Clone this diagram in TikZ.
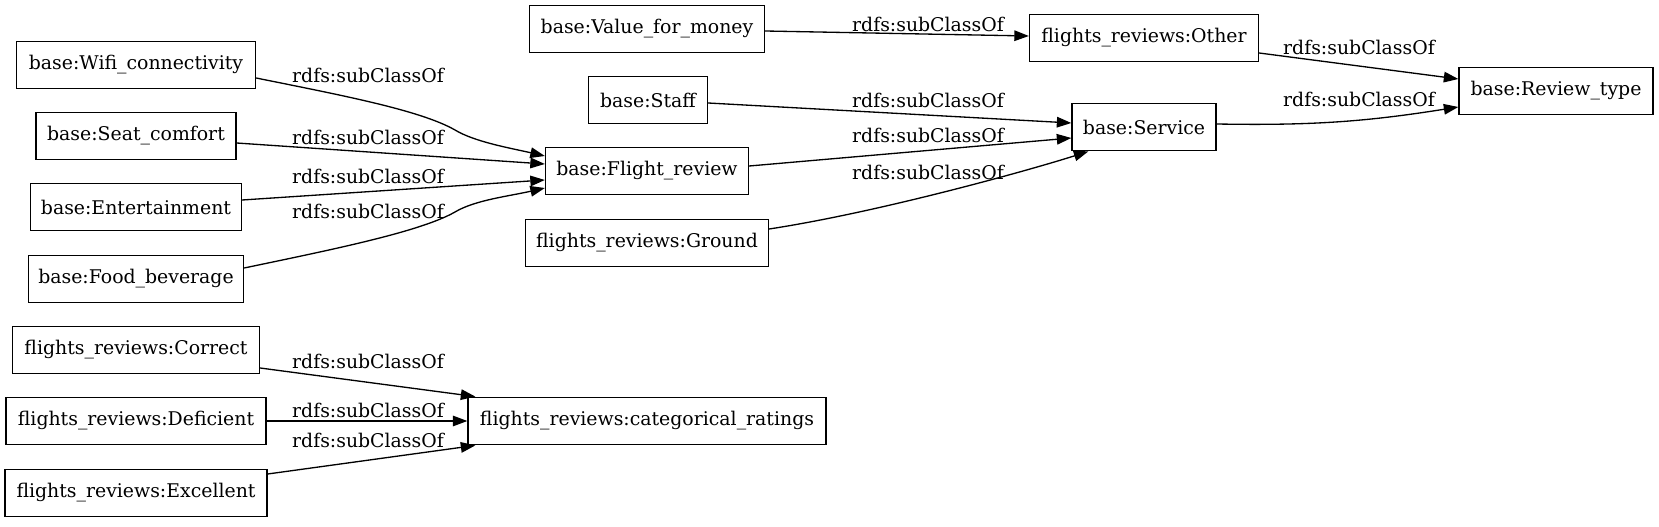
\documentclass[tikz,border=0pt]{standalone}
\usepackage{fontspec}
\setmainfont{DejaVu Serif}
\usetikzlibrary{arrows.meta,calc}

\tikzset{
  cls/.style={draw, rectangle, line width=1pt, minimum height=36pt, inner xsep=2pt,
    font=\fontsize{14.3}{16}\selectfont},
  wd/.style={minimum width=#1*0.7576pt},
  lbl/.style={inner sep=0pt, font=\fontsize{14.3}{16}\selectfont},
  sub/.style={line width=1pt, -{Triangle[length=11pt,width=8pt]}}
}

\begin{document}
\begin{tikzpicture}[x=0.7576pt, y=-0.7576pt]
  \useasboundingbox (0,0) rectangle (1659,527);
  % Classes
  \node[cls, wd=235] (vfm) at (647,29) {base:Value\_for\_money};
  \node[cls, wd=239] (wifi) at (136,65) {base:Wifi\_connectivity};
  \node[cls, wd=119] (staff) at (648,100) {base:Staff};
  \node[cls, wd=200] (seat) at (136,136) {base:Seat\_comfort};
  \node[cls, wd=203] (fr) at (647,171) {base:Flight\_review};
  \node[cls, wd=211] (ent) at (136,207) {base:Entertainment};
  \node[cls, wd=243] (ground) at (647,243) {flights\_reviews:Ground};
  \node[cls, wd=215] (food) at (136,279) {base:Food\_beverage};
  \node[cls, wd=247] (correct) at (136,350) {flights\_reviews:Correct};
  \node[cls, wd=260] (deficient) at (136,421) {flights\_reviews:Deficient};
  \node[cls, wd=358] (cat) at (647,421) {flights\_reviews:categorical\_ratings};
  \node[cls, wd=262] (excellent) at (136,493) {flights\_reviews:Excellent};
  \node[cls, wd=229] (other) at (1144,38) {flights\_reviews:Other};
  \node[cls, wd=144] (service) at (1144,127) {base:Service};
  \node[cls, wd=194] (rtype) at (1556,91) {base:Review\_type};

  % Edge labels
  \node[lbl] (l1) at (928,24) {rdfs:subClassOf};
  \node[lbl] (l2) at (1359,47) {rdfs:subClassOf};
  \node[lbl] (l3) at (1359,99) {rdfs:subClassOf};
  \node[lbl] (l4) at (928,100) {rdfs:subClassOf};
  \node[lbl] (l5) at (928,135) {rdfs:subClassOf};
  \node[lbl] (l6) at (928,172) {rdfs:subClassOf};
  \node[lbl] (l7) at (368,75) {rdfs:subClassOf};
  \node[lbl] (l8) at (368,137) {rdfs:subClassOf};
  \node[lbl] (l9) at (368,176) {rdfs:subClassOf};
  \node[lbl] (l10) at (368,211) {rdfs:subClassOf};
  \node[lbl] (l11) at (368,361) {rdfs:subClassOf};
  \node[lbl] (l12) at (368,410) {rdfs:subClassOf};
  \node[lbl] (l13) at (368,440) {rdfs:subClassOf};

  % subClassOf edges
  \draw[sub] ($(vfm.east)+(0,2)$) -- ($(other.west)+(0,-2)$);
  \draw[sub] ($(other.east)+(0,15)$) -- ($(rtype.west)+(0,-12)$);
  \draw[sub] ($(service.east)+(0,-3)$) to[bend right=5] ($(rtype.west)+(0,16)$);
  \draw[sub] ($(staff.east)+(0,3)$) -- ($(service.west)+(0,-4)$);
  \draw[sub] ($(fr.east)+(0,-5)$) -- ($(service.west)+(0,11)$);
  \draw[sub] ($(ground.east)+(0,-14)$) .. controls (880,212) and (1030,170) .. ($(service.south west)+(17,0)$);
  \draw[sub] ($(wifi.east)+(0,13)$) .. controls (340,95) and (420,110) .. (455,130)
    .. controls (475,142) and (510,148) .. ($(fr.west)+(0,-15)$);
  \draw[sub] ($(seat.east)+(0,7)$) -- ($(fr.west)+(0,-7)$);
  \draw[sub] ($(ent.east)+(0,-7)$) -- ($(fr.west)+(0,9)$);
  \draw[sub] ($(food.east)+(0,-11)$) .. controls (330,250) and (420,232) .. (455,212)
    .. controls (475,200) and (510,196) .. ($(fr.west)+(0,17)$);
  \draw[sub] ($(correct.east)+(0,18)$) -- ($(cat.north west)+(8,0)$);
  \draw[sub] (deficient.east) -- (cat.west);
  \draw[sub] ($(excellent.east)+(0,-19)$) -- ($(cat.south west)+(8,0)$);
\end{tikzpicture}
\end{document}
